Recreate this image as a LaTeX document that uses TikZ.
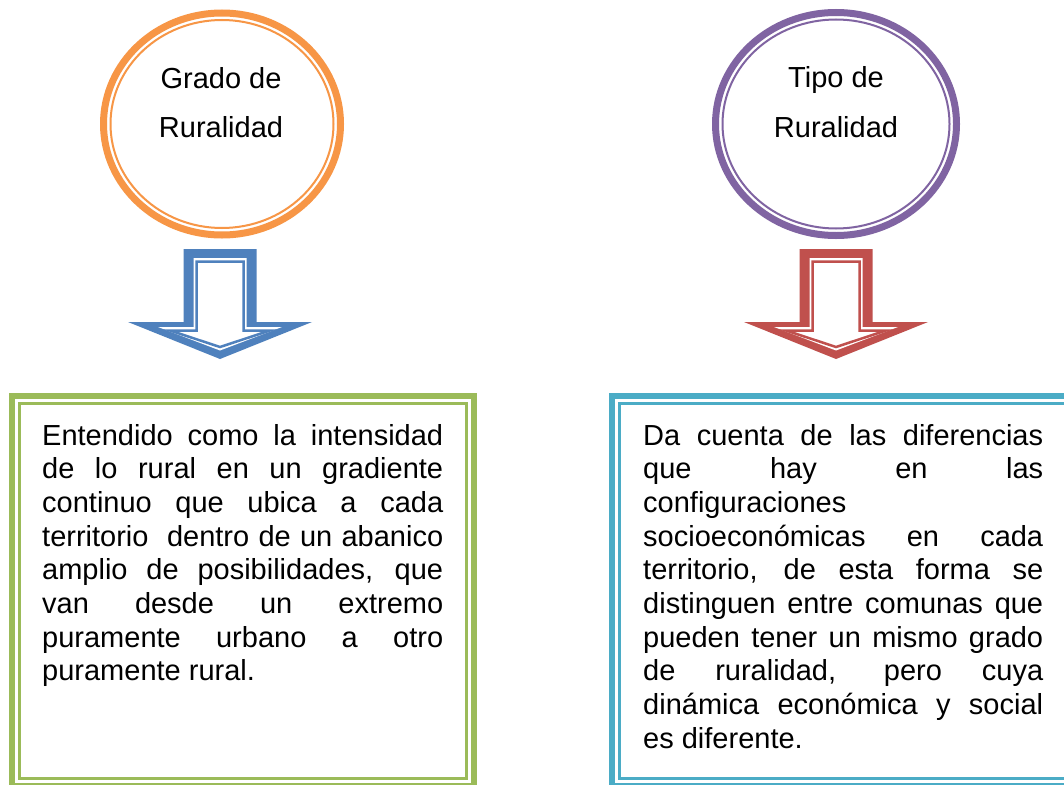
\documentclass[tikz,border=0pt]{standalone}
\usepackage{fontspec}
\setmainfont{Liberation Sans}
\definecolor{cOrange}{HTML}{F79646}
\definecolor{cPurple}{HTML}{8064A2}
\definecolor{cBlue}{HTML}{4F81BD}
\definecolor{cRed}{HTML}{C0504D}
\definecolor{cGreen}{HTML}{9BBB59}
\definecolor{cAqua}{HTML}{4BACC6}
\newcommand{\jl}[1]{\hbox to \linewidth{#1}}
\newcommand{\lastline}[1]{\hbox{#1}}
\newcommand{\blockarrow}[2]{%
 \fill[#2] (#1-36.5,249) -- (#1+36.5,249) -- (#1+36.5,322) -- (#1+92,322) -- (#1,359) -- (#1-92,322) -- (#1-36.5,322) -- cycle;
 \fill[white] (#1-26.5,258) -- (#1+26.5,258) -- (#1+26.5,327) -- (#1+62,327) -- (#1,350.5) -- (#1-62,327) -- (#1-26.5,327) -- cycle;
 \draw[#2, line width=2.5pt, line join=miter] (#1-23.5,261.5) -- (#1+23.5,261.5) -- (#1+23.5,330.5) -- (#1+50,330.5) -- (#1,347) -- (#1-50,330.5) -- (#1-23.5,330.5) -- cycle;
}
\tikzset{
  bodytext/.style={anchor=base west, inner sep=0pt, font=\fontsize{29}{33.7}\selectfont},
  circtext/.style={anchor=base, inner sep=0pt, font=\fontsize{29}{33.7}\selectfont},
  thickband/.style={line width=6pt},
  thinband/.style={line width=2.5pt},
}
\begin{document}
\begin{tikzpicture}[x=1pt,y=-1pt]
\fill[white] (0,0) rectangle (1064,784);
\useasboundingbox (0,0) rectangle (1064,784);

% circles
\draw[cOrange, line width=7pt] (222,124) ellipse [x radius=118.5pt, y radius=111pt];
\draw[cOrange, line width=2pt] (222,124) ellipse [x radius=111.5pt, y radius=104pt];
\draw[cPurple, line width=7pt] (836,124) ellipse [x radius=120.5pt, y radius=111.5pt];
\draw[cPurple, line width=2pt] (836,124) ellipse [x radius=113.5pt, y radius=104.5pt];

\node[circtext] (g1) at (221,88) {Grado de};
\node[circtext] (g2) at (221,137) {Ruralidad};
\node[circtext] (t1) at (836,87) {Tipo de};
\node[circtext] (t2) at (836,137) {Ruralidad};

% arrows
\blockarrow{220}{cBlue}
\blockarrow{836}{cRed}

% boxes
\draw[cGreen, thickband] (12,396) rectangle (474,786);
\draw[cGreen, thinband] (19.5,403.5) rectangle (466.5,778.5);
\draw[cAqua, thickband] (612,396) rectangle (1074,786);
\draw[cAqua, thinband] (619.5,403.5) rectangle (1066.5,778.5);

\node[bodytext] (b1) at (42,445) {\begin{minipage}[t]{401pt}
\jl{Entendido como la intensidad}
\jl{de lo rural en un gradiente}
\jl{continuo que ubica a cada}
\jl{territorio \ dentro de un abanico}
\jl{amplio de posibilidades, que}
\jl{van desde un extremo}
\jl{puramente urbano a otro}
\lastline{puramente rural.}
\end{minipage}};

\node[bodytext] (b2) at (643,445) {\begin{minipage}[t]{400pt}
\jl{Da cuenta de las diferencias}
\jl{que hay en las}
\lastline{configuraciones}
\jl{socioeconómicas en cada}
\jl{territorio, de esta forma se}
\jl{distinguen entre comunas que}
\jl{pueden tener un mismo grado}
\jl{de ruralidad, pero cuya}
\jl{dinámica económica y social}
\lastline{es diferente.}
\end{minipage}};
\end{tikzpicture}
\end{document}
